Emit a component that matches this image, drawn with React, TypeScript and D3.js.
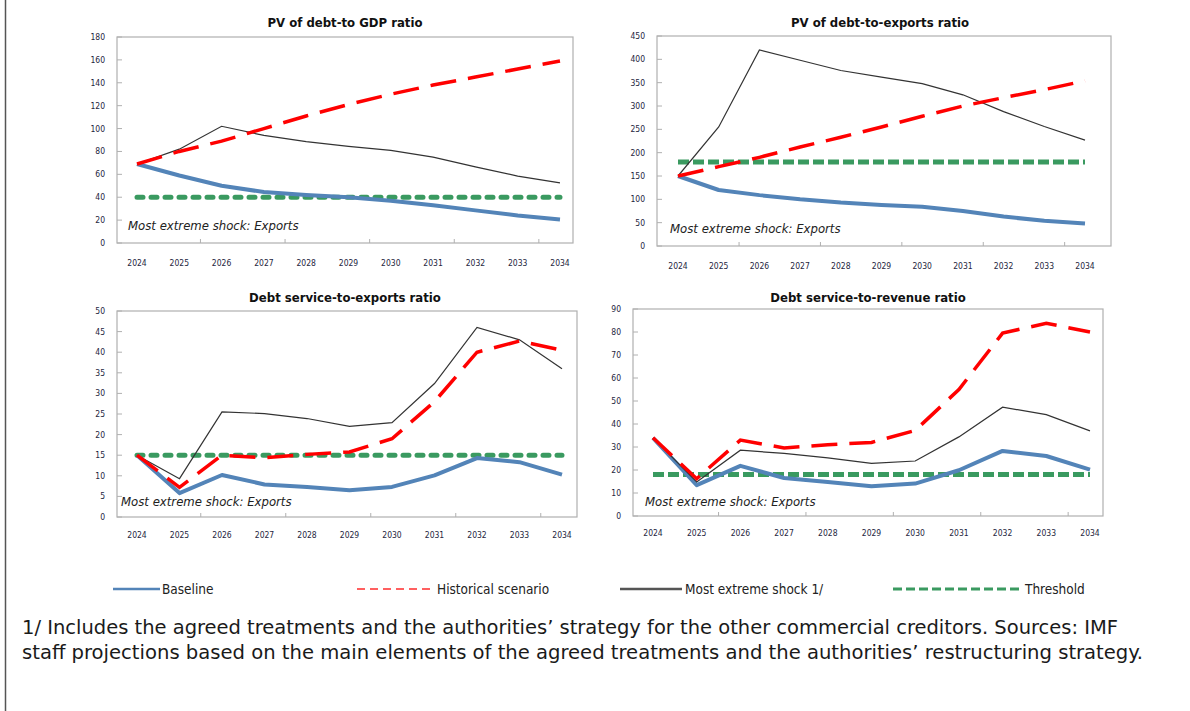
import React from "react";
import * as d3 from "d3";

const years = ["2024","2025","2026","2027","2028","2029","2030","2031","2032","2033","2034"];

const gdpBaseline = [69, 59, 50, 44.5, 42, 40, 37, 33, 28.5, 24, 20.5];
const gdpHistorical = [69, 80, 89, 100, 111, 121, 130, 138, 145, 152, 159];
const gdpExtreme = [69, 82, 102, 94, 88.5, 84.5, 81, 75, 66.5, 58.5, 52.5];
const gdpThreshold = 40;

const expBaseline = [150, 120, 109, 100, 93, 88, 84, 75, 63, 54, 48];
const expHistorical = [150, 170, 190, 212, 233, 255, 278, 300, 318, 335, 354];
const expExtreme = [150, 255, 420, 398, 376, 362, 348, 324, 288, 256, 227];
const expThreshold = 180;

const dsxBaseline = [15, 5.8, 10.2, 7.9, 7.3, 6.5, 7.3, 10.1, 14.3, 13.3, 10.3];
const dsxHistorical = [15, 7.2, 15, 14.4, 15.2, 15.8, 19, 28, 40, 42.7, 40.5];
const dsxExtreme = [15, 9.3, 25.5, 25.1, 23.9, 22, 22.9, 32.4, 46, 43, 36];
const dsxThreshold = 15;

const dsrBaseline = [34, 13.4, 21.8, 16.5, 14.8, 12.9, 14.1, 19.9, 28.3, 26.1, 20.2];
const dsrHistorical = [34, 16.2, 33, 29.6, 31, 32, 37.2, 55, 79.5, 83.8, 80];
const dsrExtreme = [34, 14.8, 28.6, 27.2, 25.3, 22.9, 23.9, 34.4, 47.3, 44.1, 37];
const dsrThreshold = 18;

const legendLabels = ["Baseline", "Historical scenario", "Most extreme shock 1/", "Threshold"];
const footnote1 = "1/ Includes the agreed treatments and the authorities\u2019 strategy for the other commercial creditors. Sources: IMF";
const footnote2 = "staff projections based on the main elements of the agreed treatments and the authorities\u2019 restructuring strategy.";

const NARROW = "'Liberation Sans Narrow', 'DejaVu Sans Condensed', 'Open Sans', sans-serif";
const BLUE = "#5384b8";
const RED = "#ff0000";
const GREEN = "#3a9a60";
const BLACK = "#333333";
const TEXT = "#1e2540";

type PanelProps = {
  title: string;
  box: [number, number, number, number];
  pts: [number, number];
  yMax: number;
  yStep: number;
  baseline: number[];
  historical: number[];
  extreme: number[];
  threshold: number;
  titleX: number;
  titleY: number;
  noteX: number;
  noteY: number;
  yearY: number;
  roundThreshold: boolean;
};

function Panel(p: PanelProps) {
  const [l, t, r, b] = p.box;
  const x = d3.scalePoint<string>().domain(years).range(p.pts);
  const y = d3.scaleLinear().domain([0, p.yMax]).range([b, t]);
  const ticks = d3.range(0, p.yMax + 0.001, p.yStep);
  const line = d3.line<number>().x((_, i) => x(years[i]) as number).y((v) => y(v));
  const step = x.step();
  const xTicks = [1, 3, 5, 7, 9].map((i) => (x(years[i]) as number) + step / 2);
  const thr = years.map(() => p.threshold);
  return (
    <g>
      <text x={p.titleX} y={p.titleY} textAnchor="middle" fontFamily={NARROW} fontWeight="bold" fontSize={13} fill="#111">{p.title}</text>
      <rect x={l} y={t} width={r - l} height={b - t} fill="white" stroke="#b0b0b0" strokeWidth={1.2} />
      {ticks.map((v) => (
        <g key={v}>
          <line x1={l} x2={l + 5} y1={y(v)} y2={y(v)} stroke="#b0b0b0" strokeWidth={1} />
          <text x={l - 12} y={y(v) + 3} textAnchor="end" fontFamily={NARROW} fontSize={8.5} fill={TEXT}>{v}</text>
        </g>
      ))}
      {xTicks.map((xv, i) => (
        <line key={i} x1={xv} x2={xv} y1={b} y2={b - 4} stroke="#b0b0b0" strokeWidth={1} />
      ))}
      {years.map((yr) => (
        <text key={yr} x={x(yr)} y={p.yearY} textAnchor="middle" fontFamily={NARROW} fontSize={8.5} fill={TEXT}>{yr}</text>
      ))}
      <path d={line(thr) || ""} fill="none" stroke={GREEN} strokeWidth={5}
        strokeDasharray={p.roundThreshold ? "6 8" : "11 4"} strokeLinecap={p.roundThreshold ? "round" : "butt"} />
      <path d={line(p.baseline) || ""} fill="none" stroke={BLUE} strokeWidth={4} strokeLinejoin="round" />
      <path d={line(p.extreme) || ""} fill="none" stroke={BLACK} strokeWidth={1.2} />
      <path d={line(p.historical) || ""} fill="none" stroke={RED} strokeWidth={3.5} strokeDasharray="26 12" />
      <text x={p.noteX} y={p.noteY} fontFamily={NARROW} fontStyle="italic" fontSize={13} fill="#222">Most extreme shock: Exports</text>
    </g>
  );
}

export default function App() {
  return (
    <svg width={1190} height={711} style={{ position: "absolute", left: 0, top: 0, background: "white" }}>
      <rect x={0} y={0} width={1190} height={711} fill="white" />
      <line x1={5.5} x2={5.5} y1={0} y2={711} stroke="#555" strokeWidth={1.5} />
      <Panel title="PV of debt-to GDP ratio" box={[117, 37, 573, 243]} pts={[137, 560]} yMax={180} yStep={20}
        baseline={gdpBaseline} historical={gdpHistorical} extreme={gdpExtreme} threshold={gdpThreshold}
        titleX={345} titleY={27} noteX={128} noteY={230} yearY={266} roundThreshold={true} />
      <Panel title="PV of debt-to-exports ratio" box={[657, 36, 1111, 246]} pts={[678, 1085]} yMax={450} yStep={50}
        baseline={expBaseline} historical={expHistorical} extreme={expExtreme} threshold={expThreshold}
        titleX={880} titleY={27} noteX={670} noteY={233} yearY={269} roundThreshold={false} />
      <Panel title="Debt service-to-exports ratio" box={[117, 311, 577, 517]} pts={[137, 562]} yMax={50} yStep={5}
        baseline={dsxBaseline} historical={dsxHistorical} extreme={dsxExtreme} threshold={dsxThreshold}
        titleX={345} titleY={302} noteX={121} noteY={506} yearY={538} roundThreshold={true} />
      <Panel title="Debt service-to-revenue ratio" box={[633, 309, 1103, 516]} pts={[653, 1090]} yMax={90} yStep={10}
        baseline={dsrBaseline} historical={dsrHistorical} extreme={dsrExtreme} threshold={dsrThreshold}
        titleX={868} titleY={302} noteX={645} noteY={506} yearY={536} roundThreshold={false} />
      <g fontFamily={NARROW} fontSize={13.5} fill="#222">
        <line x1={113} x2={160} y1={589} y2={589} stroke={BLUE} strokeWidth={2.5} />
        <text x={162} y={594}>{legendLabels[0]}</text>
        <line x1={357} x2={431} y1={589} y2={589} stroke="#ff6060" strokeWidth={2} strokeDasharray="8 5" />
        <text x={437} y={594}>{legendLabels[1]}</text>
        <line x1={620} x2={682} y1={589} y2={589} stroke="#555" strokeWidth={2.5} />
        <text x={685} y={594}>{legendLabels[2]}</text>
        <line x1={893} x2={1021} y1={589} y2={589} stroke={GREEN} strokeWidth={3} strokeDasharray="9 4" />
        <text x={1025} y={594}>{legendLabels[3]}</text>
      </g>
      <g fontFamily={NARROW} fontSize={19} fill="#1a1a1a">
        <text x={22} y={634} textLength={1096} lengthAdjust="spacingAndGlyphs">{footnote1}</text>
        <text x={22} y={659} textLength={1121} lengthAdjust="spacingAndGlyphs">{footnote2}</text>
      </g>
    </svg>
  );
}
